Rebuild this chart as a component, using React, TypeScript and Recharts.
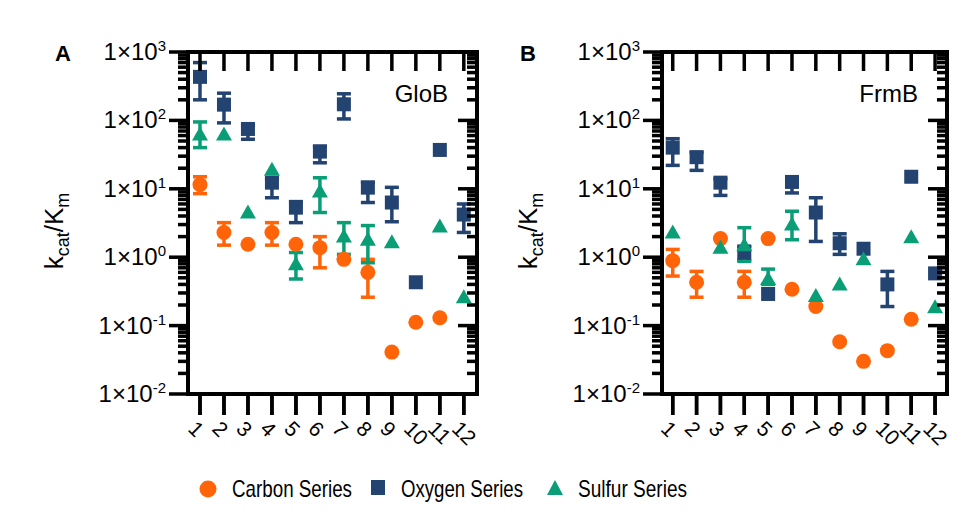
import React from 'react';
import { ScatterChart, Scatter, XAxis, YAxis, ErrorBar } from 'recharts';

const categories = [1, 2, 3, 4, 5, 6, 7, 8, 9, 10, 11, 12];
const seriesNames = ['Carbon Series', 'Oxygen Series', 'Sulfur Series'];
const seriesColors = ['#FF6508', '#234370', '#0A9E76'];
const seriesShapes = ['circle', 'square', 'triangle'];

// Panel A: GloB
const globCarbon = [11.5, 2.3, 1.55, 2.3, 1.55, 1.38, 0.93, 0.6, 0.041, 0.112, 0.13, null];
const globCarbonLow = [8.5, 1.5, null, 1.5, null, 0.7, null, 0.26, null, null, null, null];
const globCarbonHigh = [15, 3.2, null, 3.2, null, 2.0, null, 0.93, null, null, null, null];
const globOxygen = [433, 170, 75, 12.3, 5.3, 35, 172, 10.4, 6.3, 0.43, 37, 4.2];
const globOxygenLow = [200, 92, 53, 7.4, 3.2, 24, 105, 6.3, 3.3, null, null, 2.3];
const globOxygenHigh = [700, 250, 85, 14, 6.5, 42, 245, 12.5, 10.5, null, null, 6];
const globSulfur = [62, 62, 4.5, 19, 0.79, 9.1, 2.0, 1.8, 1.65, null, 2.8, 0.26];
const globSulfurLow = [40, null, null, null, 0.48, 4.5, 1.1, 0.83, null, null, null, null];
const globSulfurHigh = [95, null, null, null, 1.17, 14.5, 3.2, 2.9, null, null, null, null];

// Panel B: FrmB
const frmCarbon = [0.89, 0.43, 1.87, 0.43, 1.87, 0.34, 0.19, 0.058, 0.03, 0.043, 0.124, null];
const frmCarbonLow = [0.53, 0.26, null, 0.26, null, null, null, null, null, null, null, null];
const frmCarbonHigh = [1.3, 0.62, null, 0.62, null, null, null, null, null, null, null, null];
const frmOxygen = [40, 29, 12.3, 1.17, 0.29, 12.6, 4.5, 1.6, 1.33, 0.4, 15, 0.58];
const frmOxygenLow = [22, 18.6, 8, 0.9, null, 8.7, 1.7, 1.1, null, 0.19, null, null];
const frmOxygenHigh = [54, 34, 14, 1.45, null, 14.5, 7.4, 2.2, null, 0.62, null, null];
const frmSulfur = [2.3, null, 1.38, 1.5, 0.48, 3.0, 0.27, 0.4, 0.93, null, 1.95, 0.185];
const frmSulfurLow = [null, null, null, 0.87, 0.4, 1.8, null, null, null, null, null, null];
const frmSulfurHigh = [null, null, null, 2.7, 0.67, 4.7, null, null, null, null, null, null];

// Axis ticks
const majorTicks = [0.01, 0.1, 1, 10, 100, 1000];
const minorMantissas = [2, 3, 4, 5, 6, 7, 8, 9];
const yTicks: number[] = [];
majorTicks.forEach((d, i) => {
  yTicks.push(d);
  if (i < majorTicks.length - 1) minorMantissas.forEach((m) => yTicks.push(m * d));
});
const Y_DOMAIN: [number, number] = [0.01, 1000];

const FONT = "'Liberation Sans', Arial, Helvetica, sans-serif";
const W = 500;
const H = 470;
const MARGIN = { top: 22, right: 0, bottom: 20, left: 0 };
const TOP_AXIS_H = 30;
const BOTTOM_AXIS_H = 56;
const PLOT_TOP = MARGIN.top + TOP_AXIS_H;
const PLOT_BOTTOM = H - MARGIN.bottom - BOTTOM_AXIS_H;
const MAJOR_LEN = 19;
const MINOR_LEN = 10;
const X_TICK_LEN = 21;

const panelLefts = [0, 478];
const panelAxisWidths = [188, 184];
const panelRightWidths = [23, 31];
const panelDomains: [number, number][] = [[0.5, 12.55], [0.55, 12.5]];

type Row = { x: number; y: number; err?: [number, number] };

function buildRows(vals: (number | null)[], lo: (number | null)[], hi: (number | null)[]): Row[] {
  const rows: Row[] = [];
  categories.forEach((c, i) => {
    const v = vals[i];
    if (v == null) return;
    const row: Row = { x: c, y: v };
    if (lo[i] != null && hi[i] != null) row.err = [v - (lo[i] as number), (hi[i] as number) - v];
    rows.push(row);
  });
  return rows;
}

const isMajor = (v: number) => Math.abs(Math.log10(v) - Math.round(Math.log10(v))) < 1e-6;

const LeftTick = (props: any) => {
  const { x, y, payload } = props;
  const v = payload.value;
  if (!isMajor(v)) return <g />;
  const exp = Math.round(Math.log10(v));
  return (
    <text x={x - 22} y={y + 8} textAnchor="end" fontSize={24} fontFamily={FONT} fill="#000">
      1×10
      <tspan dy={-9} fontSize={15}>{exp}</tspan>
    </text>
  );
};

const BottomTick = (props: any) => {
  const { x, y, payload } = props;
  const ax = x - 13;
  const ay = y + 15;
  return (
    <text x={ax} y={ay} textAnchor="start" fontSize={21} fontFamily={FONT} fill="#000" transform={`rotate(45, ${ax}, ${ay})`}>
      {payload.value}
    </text>
  );
};

function makeShape(kind: string, color: string) {
  return (p: any) => {
    const { cx, cy } = p;
    if (cx == null || cy == null) return <g />;
    if (kind === 'circle') return <circle cx={cx} cy={cy} r={7.5} fill={color} />;
    if (kind === 'square') return <rect x={cx - 7} y={cy - 7} width={14} height={14} fill={color} />;
    return <polygon points={`${cx},${cy - 8} ${cx + 8},${cy + 6} ${cx - 8},${cy + 6}`} fill={color} />;
  };
}

// Page-level frame: boxes with mirrored log ticks (left/right) and category ticks (top/bottom)
// for both panels, using the same linear / log mapping as the charts' plot rectangles.
function PageFrame() {
  const lg0 = Math.log10(Y_DOMAIN[0]);
  const lg1 = Math.log10(Y_DOMAIN[1]);
  const yPos = (v: number) => PLOT_BOTTOM - ((Math.log10(v) - lg0) / (lg1 - lg0)) * (PLOT_BOTTOM - PLOT_TOP);
  return (
    <svg width={978} height={470} style={{ position: 'absolute', left: 0, top: 0 }}>
      {panelLefts.map((pl, pi) => {
        const plotLeft = pl + panelAxisWidths[pi];
        const plotRight = pl + W - panelRightWidths[pi];
        const dom = panelDomains[pi];
        const xPos = (c: number) => plotLeft + ((c - dom[0]) / (dom[1] - dom[0])) * (plotRight - plotLeft);
        return (
          <g key={'frame' + pi}>
            <rect x={plotLeft - 2} y={PLOT_TOP - 2} width={plotRight - plotLeft + 4} height={4} fill="#000" />
            <rect x={plotLeft - 2} y={PLOT_BOTTOM - 2} width={plotRight - plotLeft + 4} height={4} fill="#000" />
            <rect x={plotLeft - 2} y={PLOT_TOP - 2} width={4} height={PLOT_BOTTOM - PLOT_TOP + 4} fill="#000" />
            <rect x={plotRight - 2} y={PLOT_TOP - 2} width={4} height={PLOT_BOTTOM - PLOT_TOP + 4} fill="#000" />
            {yTicks.map((v) => {
              const y = yPos(v);
              const len = isMajor(v) ? MAJOR_LEN : MINOR_LEN;
              return (
                <g key={'y' + v}>
                  <rect x={plotLeft - len} y={y - 1.75} width={len} height={3.5} fill="#000" />
                  <rect x={plotRight - len} y={y - 1.75} width={len} height={3.5} fill="#000" />
                </g>
              );
            })}
            {categories.map((c) => {
              const x = xPos(c);
              return (
                <g key={'x' + c}>
                  <rect x={x - 1.75} y={PLOT_BOTTOM} width={3.5} height={X_TICK_LEN} fill="#000" />
                  <rect x={x - 1.75} y={PLOT_TOP} width={3.5} height={MAJOR_LEN} fill="#000" />
                </g>
              );
            })}
          </g>
        );
      })}
    </svg>
  );
}

type PanelProps = {
  idx: number;
  letter: string;
  letterX: number;
  name: string;
  series: Row[][];
};

const axisLineStyle = { stroke: '#000', strokeWidth: 4 };

function Panel({ idx, letter, letterX, name, series }: PanelProps) {
  const left = panelLefts[idx];
  const yAxisWidth = panelAxisWidths[idx];
  const rightWidth = panelRightWidths[idx];
  const xDomain = panelDomains[idx];
  const plotRight = W - rightWidth;
  const labelX = yAxisWidth - 125;
  const labelY = 231;
  return (
    <div style={{ position: 'absolute', left, top: 0, width: W, height: H }}>
      <ScatterChart width={W} height={H} margin={MARGIN}>
        <XAxis
          xAxisId="bottom"
          dataKey="x"
          type="number"
          domain={xDomain}
          ticks={categories}
          interval={0}
          orientation="bottom"
          height={BOTTOM_AXIS_H}
          tickSize={X_TICK_LEN}
          tickMargin={0}
          stroke="#000"
          tickLine={{ stroke: '#000', strokeWidth: 3.5 }}
          axisLine={axisLineStyle}
          tick={<BottomTick />}
        />
        <XAxis
          xAxisId="top"
          type="number"
          domain={xDomain}
          orientation="top"
          height={TOP_AXIS_H}
          tick={false}
          tickLine={false}
          stroke="#000"
          axisLine={axisLineStyle}
        />
        <YAxis
          yAxisId="left"
          dataKey="y"
          type="number"
          scale="log"
          domain={Y_DOMAIN}
          ticks={yTicks}
          interval={0}
          width={yAxisWidth}
          tickSize={0}
          tickMargin={0}
          tickLine={false}
          stroke="#000"
          axisLine={axisLineStyle}
          tick={<LeftTick />}
        />
        <YAxis
          yAxisId="right"
          orientation="right"
          type="number"
          scale="log"
          domain={Y_DOMAIN}
          width={rightWidth}
          tick={false}
          tickLine={false}
          stroke="#000"
          axisLine={axisLineStyle}
        />
        {series.map((rows, si) => (
          <Scatter
            key={seriesNames[si]}
            name={seriesNames[si]}
            data={rows}
            xAxisId="bottom"
            yAxisId="left"
            fill={seriesColors[si]}
            isAnimationActive={false}
            shape={makeShape(seriesShapes[si], seriesColors[si])}
          >
            <ErrorBar dataKey="err" direction="y" width={7} strokeWidth={3.5} stroke={seriesColors[si]} isAnimationActive={false} />
          </Scatter>
        ))}
        <text x={letterX} y={61} fontSize={22} fontWeight="bold" fontFamily={FONT} fill="#000">
          {letter}
        </text>
        <text x={plotRight - 29} y={102} fontSize={24} textAnchor="end" fontFamily={FONT} fill="#000">
          {name}
        </text>
        <text
          x={labelX}
          y={labelY}
          textAnchor="middle"
          fontSize={26}
          fontFamily={FONT}
          fill="#000"
          transform={`rotate(-90, ${labelX}, ${labelY})`}
        >
          k
          <tspan dy={6} fontSize={18}>cat</tspan>
          <tspan dy={-6}>/K</tspan>
          <tspan dy={6} fontSize={18}>m</tspan>
        </text>
      </ScatterChart>
    </div>
  );
}

const legendX = [208, 378, 555];
const legendTextX = [232, 401, 578];
const legendTextW = [120, 122, 109];

function LegendRow() {
  return (
    <svg width={978} height={60} style={{ position: 'absolute', left: 0, top: 460 }}>
      {seriesNames.map((n, i) => {
        const cx = legendX[i];
        const cy = 29;
        const c = seriesColors[i];
        return (
          <g key={n}>
            {seriesShapes[i] === 'circle' && <circle cx={cx} cy={cy} r={8.5} fill={c} />}
            {seriesShapes[i] === 'square' && <rect x={cx - 7} y={cy - 9} width={14} height={15} fill={c} />}
            {seriesShapes[i] === 'triangle' && (
              <polygon points={`${cx},${cy - 9} ${cx + 8},${cy + 6} ${cx - 8},${cy + 6}`} fill={c} />
            )}
            <text
              x={legendTextX[i]}
              y={37}
              fontSize={24}
              fontFamily={"'Liberation Sans Narrow', 'Arial Narrow', " + FONT}
              textLength={legendTextW[i]}
              lengthAdjust="spacingAndGlyphs"
              fill="#000"
            >
              {n}
            </text>
          </g>
        );
      })}
    </svg>
  );
}

export default function App() {
  const seriesA = [
    buildRows(globCarbon, globCarbonLow, globCarbonHigh),
    buildRows(globOxygen, globOxygenLow, globOxygenHigh),
    buildRows(globSulfur, globSulfurLow, globSulfurHigh),
  ];
  const seriesB = [
    buildRows(frmCarbon, frmCarbonLow, frmCarbonHigh),
    buildRows(frmOxygen, frmOxygenLow, frmOxygenHigh),
    buildRows(frmSulfur, frmSulfurLow, frmSulfurHigh),
  ];
  return (
    <div style={{ position: 'absolute', left: 0, top: 0, width: 978, height: 525, background: '#fff', overflow: 'hidden' }}>
      <Panel idx={0} letter="A" letterX={55} name="GloB" series={seriesA} />
      <Panel idx={1} letter="B" letterX={42} name="FrmB" series={seriesB} />
      <LegendRow />
      <PageFrame />
    </div>
  );
}
